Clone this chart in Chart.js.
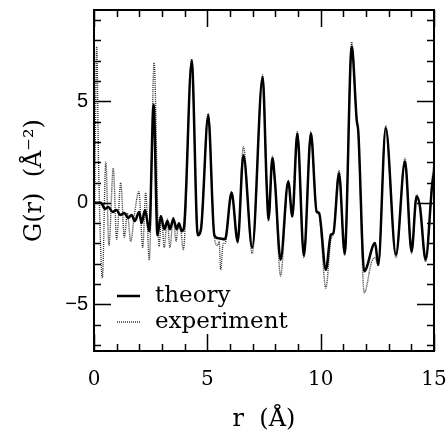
<!DOCTYPE html>
<html>
<head>
<meta charset="utf-8">
<script src="https://cdn.jsdelivr.net/npm/chart.js@4"></script>
<style>
  html, body { margin: 0; padding: 0; background: #fff; }
  #wrap { width: 448px; height: 436px; }
</style>
</head>
<body>
<div id="wrap"><canvas id="gr"></canvas></div>
<script>
// theory curve (solid)
const rTheory = [0, 0.3, 0.49, 0.63, 0.82, 1.0, 1.15, 1.34, 1.5, 1.66, 1.8, 1.99, 2.1, 2.25, 2.44, 2.63, 2.8, 2.95, 3.1, 3.24, 3.35, 3.5, 3.65, 3.75, 3.87, 3.97, 4.31, 4.58, 4.72, 5.04, 5.31, 5.5, 5.78, 6.07, 6.34, 6.59, 6.98, 7.44, 7.62, 7.7, 7.87, 7.98, 8.23, 8.57, 8.75, 8.97, 9.26, 9.57, 9.82, 9.93, 10.23, 10.45, 10.56, 10.81, 11.06, 11.37, 11.59, 11.66, 11.92, 12.4, 12.54, 12.87, 13.32, 13.72, 14.01, 14.23, 14.38, 14.63, 14.92, 15];
const gTheory = [0, 0, -0.3, -0.2, -0.45, -0.35, -0.6, -0.5, -0.75, -0.6, -0.9, -0.45, -1.0, -0.35, -1.4, 4.85, -1.6, -0.65, -1.3, -0.9, -1.3, -0.8, -1.3, -1.0, -1.4, -1.2, 7.0, -1.6, -1.3, 4.3, -1.6, -1.75, -1.8, 0.5, -1.9, 2.35, -2.2, 6.2, 0.8, -0.8, 2.2, 1.1, -2.8, 1.05, -0.67, 3.42, -2.6, 3.42, -0.43, -0.5, -3.3, -1.57, -1.5, 1.46, -2.5, 7.7, 4.08, 3.5, -3.37, -1.98, -3.05, 3.67, -2.55, 2.03, -2.4, 0.31, -0.18, -2.8, 0.88, 1.5];

// experiment curve (dotted)
const rExp = [0, 0.12, 0.2, 0.37, 0.52, 0.66, 0.85, 1.0, 1.18, 1.34, 1.47, 1.62, 1.78, 1.98, 2.15, 2.28, 2.44, 2.65, 2.87, 2.98, 3.1, 3.23, 3.35, 3.5, 3.62, 3.72, 3.82, 3.94, 4.31, 4.57, 4.72, 5.04, 5.31, 5.45, 5.52, 5.59, 5.7, 5.78, 6.07, 6.34, 6.59, 6.98, 7.44, 7.62, 7.7, 7.87, 7.98, 8.23, 8.57, 8.75, 8.97, 9.26, 9.57, 9.82, 9.93, 10.23, 10.45, 10.56, 10.81, 11.06, 11.37, 11.59, 11.66, 11.92, 12.25, 12.4, 12.54, 12.87, 13.32, 13.72, 14.01, 14.23, 14.38, 14.63, 14.92, 15];
const gExp = [-4.0, 7.7, 2.0, -3.7, 2.0, -2.1, 1.7, -1.8, 1.0, -1.7, -0.5, -1.9, -0.6, 0.55, -2.2, 0.5, -2.8, 6.9, -2.15, -0.7, -2.2, -0.8, -2.2, -0.7, -1.9, -1.2, -1.3, -2.3, 7.1, -1.5, -1.2, 4.4, -1.7, -2.1, -1.9, -3.3, -2.0, -2.0, 0.55, -2.0, 2.77, -2.5, 6.3, 0.8, -0.9, 2.3, 1.1, -3.6, 1.1, -0.7, 3.5, -2.7, 3.5, -0.4, -0.6, -4.2, -1.8, -1.5, 1.6, -2.6, 7.93, 4.1, 3.5, -4.44, -2.9, -2.7, -3.1, 3.8, -2.7, 2.2, -2.5, 0.4, -0.2, -2.9, 1.2, 2.0];

const seriesNames = ['theory', 'experiment'];
const xTickLabels = [0, 5, 10, 15];
const yTickLabels = [-5, 0, 5];

const serif = '"DejaVu Serif", serif';
const sans = '"Liberation Sans", Arial, sans-serif';

function pairs(xs, ys) {
  return xs.map((x, i) => ({ x: x, y: ys[i] }));
}

// inward ticks on all four sides + frame + legend
const frame = {
  id: 'frame',
  afterDraw(chart) {
    const ctx = chart.ctx;
    const a = chart.chartArea;
    const xs = chart.scales.x, ys = chart.scales.y;
    ctx.save();
    ctx.strokeStyle = '#000';
    ctx.lineWidth = 1.5;
    for (let v = Math.ceil(xs.min); v <= xs.max; v++) {
      const px = Math.round(xs.getPixelForValue(v)) + 0.5;
      const len = v % 5 === 0 ? 17 : 7;
      ctx.beginPath();
      ctx.moveTo(px, a.bottom); ctx.lineTo(px, a.bottom - len);
      ctx.moveTo(px, a.top); ctx.lineTo(px, a.top + len);
      ctx.stroke();
    }
    for (let v = Math.ceil(ys.min); v <= ys.max; v++) {
      const py = Math.round(ys.getPixelForValue(v)) + 0.5;
      const len = v % 5 === 0 ? 17 : 7;
      ctx.beginPath();
      ctx.moveTo(a.left, py); ctx.lineTo(a.left + len, py);
      ctx.moveTo(a.right, py); ctx.lineTo(a.right - len, py);
      ctx.stroke();
    }
    ctx.lineWidth = 2;
    ctx.strokeRect(a.left, a.top, a.right - a.left, a.bottom - a.top);

    // legend inside the plot
    const lx = a.left + 23;
    const rows = [a.top + 286, a.top + 312];
    ctx.font = '23px ' + serif;
    ctx.fillStyle = '#000';
    ctx.textBaseline = 'middle';
    chart.data.datasets.forEach((ds, i) => {
      ctx.beginPath();
      ctx.strokeStyle = ds.borderColor;
      ctx.lineWidth = ds.borderWidth;
      ctx.setLineDash(ds.borderDash || []);
      ctx.moveTo(lx, rows[i]); ctx.lineTo(lx + 23, rows[i]);
      ctx.stroke();
      ctx.setLineDash([]);
      ctx.fillText(ds.label, lx + 38, rows[i]);
    });
    ctx.restore();
  }
};

new Chart(document.getElementById('gr'), {
  type: 'line',
  data: {
    datasets: [
      {
        label: seriesNames[0],
        data: pairs(rTheory, gTheory),
        borderColor: '#000',
        borderWidth: 2.5,
        pointRadius: 0,
        cubicInterpolationMode: 'monotone'
      },
      {
        label: seriesNames[1],
        data: pairs(rExp, gExp),
        borderColor: '#333',
        borderWidth: 1.4,
        borderDash: [1, 1],
        pointRadius: 0,
        cubicInterpolationMode: 'monotone'
      }
    ]
  },
  options: {
    responsive: true,
    maintainAspectRatio: false,
    animation: false,
    events: [],
    layout: { padding: { left: 20, right: 14, top: 10, bottom: 0 } },
    plugins: {
      legend: { display: false },
      tooltip: { enabled: false }
    },
    scales: {
      x: {
        type: 'linear',
        min: 0,
        max: 15,
        grid: { display: false, drawTicks: false },
        border: { display: false },
        ticks: {
          stepSize: 1,
          autoSkip: false,
          maxRotation: 0,
          padding: 17,
          color: '#000',
          font: { family: serif, size: 20 },
          callback: v => xTickLabels.includes(v) ? String(v) : ''
        },
        title: {
          display: true,
          text: 'r  (Å)',
          color: '#000',
          font: { family: serif, size: 24 },
          padding: { top: 0, bottom: 2 }
        },
        afterFit: s => { s.height = 85; s.paddingLeft = 0; s.paddingRight = 0; }
      },
      y: {
        type: 'linear',
        min: -7.3,
        max: 9.5,
        grid: { display: false, drawTicks: false },
        border: { display: false },
        ticks: {
          stepSize: 1,
          autoSkip: false,
          padding: 6,
          color: '#000',
          font: { family: sans, size: 20 },
          callback: v => yTickLabels.includes(v) ? (v < 0 ? '\u2212' + Math.abs(v) : String(v)) : ''
        },
        title: {
          display: true,
          text: 'G(r)  (Å⁻²)',
          color: '#000',
          font: { family: serif, size: 24 },
          padding: 0
        },
        afterFit: s => { s.width = 74; s.paddingTop = 0; s.paddingBottom = 0; }
      }
    }
  },
  plugins: [frame]
});
</script>
</body>
</html>
